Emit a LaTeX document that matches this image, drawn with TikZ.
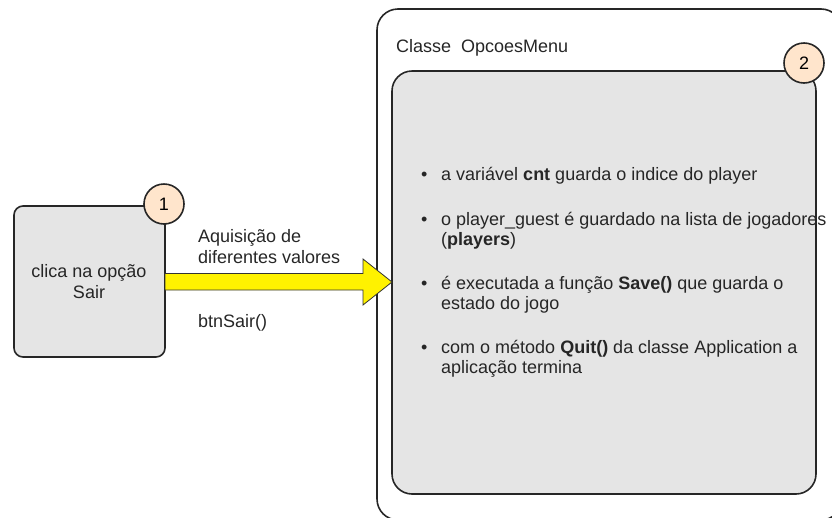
\documentclass[tikz,border=0pt]{standalone}
\usepackage{fontspec}
\setmainfont{Liberation Sans}
\begin{document}
\begin{tikzpicture}[x=1pt,y=-1pt,
  box/.style={draw=black!85, line width=1.6pt, fill=gray!20},
  badge/.style={circle, draw=black!85, line width=1.6pt, fill=orange!20, minimum size=40pt, inner sep=0pt, font=\fontsize{18}{20}\selectfont},
  txt/.style={font=\fontsize{18}{20}\selectfont, text=black!85, inner sep=0pt}]
\useasboundingbox (0,0) rectangle (832,517);
\clip (0,0) rectangle (832,517);
% outer container
\draw[line width=1.6pt, draw=black!85, rounded corners=21pt] (377,9) rectangle (842,520);
\node[txt, anchor=base west] (cls) at (396,52.5) {Classe\ \ OpcoesMenu};
% inner box
\draw[box, rounded corners=20pt] (392,71) rectangle (816,494);
\node[badge] (b2) at (804,63) {2};
% left box
\draw[box, rounded corners=9pt] (14,206) rectangle (165,357);
\node[txt, anchor=base] (lb1) at (89,277) {clica na opção};
\node[txt, anchor=base] (lb2) at (89,298) {Sair};
\node[badge] (b1) at (164,204) {1};
% arrow
\draw[draw=black!80, line width=0.8pt, fill=yellow]
  (165,273.5) -- (363,273.5) -- (363,259) -- (392,282) -- (363,305) -- (363,290) -- (165,290) -- cycle;
\node[txt, anchor=base west] (aq) at (198,242) {Aquisição de};
\node[txt, anchor=base west] (df) at (198,263) {diferentes valores};
\node[txt, anchor=base west] (btn) at (198,327) {btnSair()};
% bullets
\foreach \y/\t in {
  180/{a variável \textbf{cnt} guarda o indice do player},
  225/{o player\_guest é guardado na lista de jogadores},
  289/{é executada a função \textbf{Save()} que guarda o},
  353/{com o método \textbf{Quit()} da classe Application a}}{
  \node[txt, anchor=base west] at (421,\y) {•};
  \node[txt, anchor=base west] at (441,\y) {\t};
}
\node[txt, anchor=base west] (l2b) at (441,245) {(\textbf{players})};
\node[txt, anchor=base west] (l3b) at (441,309) {estado do jogo};
\node[txt, anchor=base west] (l4b) at (441,373) {aplicação termina};
\end{tikzpicture}
\end{document}
